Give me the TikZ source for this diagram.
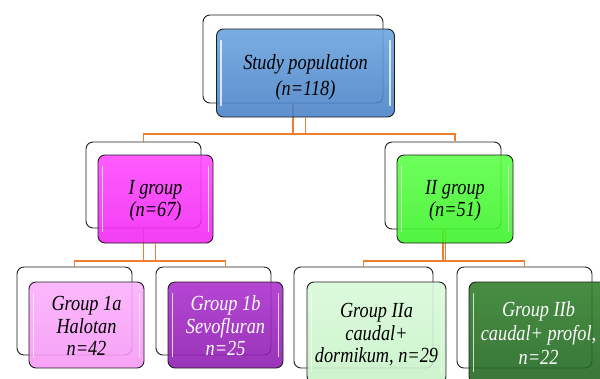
\documentclass[tikz,border=0pt]{standalone}
\usepackage{fontspec}
\usepackage{graphicx}
\setmainfont{Liberation Serif}
\definecolor{conncol}{RGB}{237,125,49}
\definecolor{boxline}{RGB}{30,30,30}
\newcommand{\stx}[3][19]{\raisebox{#2}[\height][\depth]{\scalebox{1.02}[1.2]{\fontsize{18}{#1}\selectfont\begin{tabular}{@{}c@{}}#3\end{tabular}}}}
\tikzset{
  backbox/.style={draw=boxline, line width=0.9bp, rounded corners=7bp, fill=white, inner sep=0pt},
  frontbox/.style={draw=boxline, line width=0.9bp, rounded corners=7bp, fill opacity=0.88, text opacity=1,
     inner sep=0pt, align=center, font=\itshape},
  conn/.style={draw=conncol, line width=1.1bp},
  gloss/.style={draw=white, line width=1.2bp, draw opacity=0.75, line cap=round},
}
\newcommand{\glossy}[1]{%
  \draw[gloss] ([xshift=5bp,yshift=-12bp]#1.north west) -- ([xshift=5bp,yshift=12bp]#1.south west);
  \draw[gloss] ([xshift=-5bp,yshift=-12bp]#1.north east) -- ([xshift=-5bp,yshift=12bp]#1.south east);}
\begin{document}
\begin{tikzpicture}[x=1bp,y=-1bp]
\useasboundingbox (0,0) rectangle (600,378);
\clip (0,0) rectangle (600,378);
% hub coordinates
\coordinate (h1) at (300,134);
\coordinate (h2) at (150,261);
\coordinate (h3) at (440,261);
\coordinate (fIIx) at (455,141);
\coordinate (f1bx) at (225.5,267);
\coordinate (bIIs) at (445.5,229);
% back boxes
\node[backbox, minimum width=180bp, minimum height=88bp] (b0) at (293,59) {};
\node[backbox, minimum width=115bp, minimum height=86bp] (bI) at (143.5,185) {};
\node[backbox, minimum width=116bp, minimum height=87bp] (bII) at (443,185.5) {};
\node[backbox, minimum width=115bp, minimum height=88bp] (b1a) at (74.5,311) {};
\node[backbox, minimum width=115bp, minimum height=88bp] (b1b) at (213.5,311) {};
\node[backbox, minimum width=139bp, minimum height=101bp] (b2a) at (363.5,317.5) {};
\node[backbox, minimum width=135bp, minimum height=101bp] (b2b) at (524.5,317.5) {};
% connectors
\draw[conn] (b0.south) -- (b0.south |- h1);
\draw[conn] (bI.north) |- (h1) -| (fIIx);
\draw[conn] (bI.south) -- (bI.south |- h2);
\draw[conn] (b1a.north) |- (h2) -| (f1bx);
\draw[conn] (bII.south) -- (bII.south |- h3);
\draw[conn] (bIIs) -- (bIIs |- h3);
\draw[conn] (b2a.north) |- (h3) -| (b2b.north);
% front boxes
\node[frontbox, top color={rgb,255:red,104;green,162;blue,222}, bottom color={rgb,255:red,70;green,128;blue,198},
  minimum width=178bp, minimum height=88bp] (f0) at (305.5,73) {\stx[21]{-4.5bp}{Study population\\(n=118)}};
\draw[conn] (f0.south) -- (f0.south |- h1);
\node[frontbox, top color={rgb,255:red,255;green,70;blue,255}, bottom color={rgb,255:red,242;green,35;blue,242},
  minimum width=115bp, minimum height=88bp] (fI) at (155.5,199) {\stx{-2bp}{I group\\(n=67)}};
\node[frontbox, top color={rgb,255:red,90;green,255;blue,70}, bottom color={rgb,255:red,58;green,243;blue,38},
  minimum width=116bp, minimum height=88bp] (fII) at (455,199) {\stx{-2bp}{II group\\(n=51)}};
\draw[conn] (fI.south) -- (fI.south |- h2);
\node[frontbox, top color={rgb,255:red,252;green,175;blue,252}, bottom color={rgb,255:red,246;green,150;blue,246},
  minimum width=115bp, minimum height=86bp] (f1a) at (86.5,325) {\stx{-3.5bp}{Group 1a\\Halotan\\n=42}};
\node[frontbox, text=white, top color={rgb,255:red,170;green,45;blue,205}, bottom color={rgb,255:red,140;green,25;blue,175},
  minimum width=115bp, minimum height=86bp] (f1b) at (225.5,325) {\stx{-3.5bp}{Group 1b\\Sevofluran\\n=25}};
\node[frontbox, top color={rgb,255:red,216;green,250;blue,216}, bottom color={rgb,255:red,198;green,242;blue,198},
  minimum width=139bp, minimum height=101bp] (f2a) at (376.5,332.5) {\stx{-3bp}{Group IIa\\caudal+\\dormikum, n=29}};
\node[frontbox, text=white, top color={rgb,255:red,46;green,126;blue,40}, bottom color={rgb,255:red,30;green,100;blue,30},
  minimum width=139bp, minimum height=101bp] (f2b) at (538.5,332.5) {\stx[20]{-3bp}{Group IIb\\caudal+ profol,\\n=22}};
\foreach \n in {f0,fI,fII,f1a,f1b,f2a,f2b} {\glossy{\n}}
\end{tikzpicture}
\end{document}
